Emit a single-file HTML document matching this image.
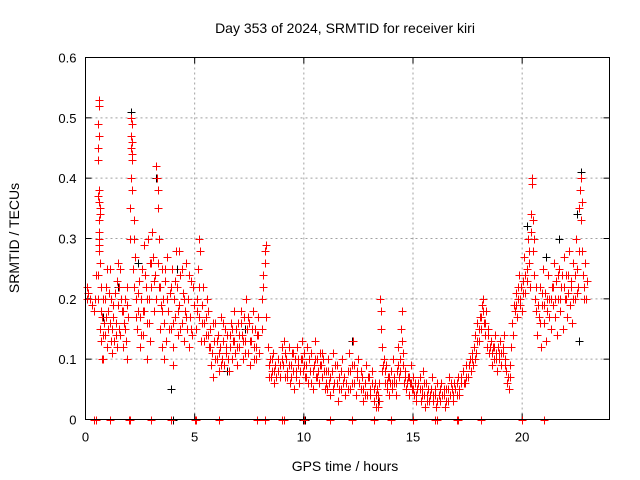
<!DOCTYPE html>
<html><head><meta charset="utf-8"><style>
html,body{margin:0;padding:0;background:#fff}
svg{display:block;font-family:"Liberation Sans",sans-serif}
</style></head><body>
<svg id="chart" width="640" height="480" viewBox="0 0 640 480" xmlns="http://www.w3.org/2000/svg">
<text x="345" y="33" font-size="14" text-anchor="middle">Day 353 of 2024, SRMTID for receiver kiri</text>
<text transform="translate(19,238) rotate(-90)" font-size="14" text-anchor="middle">SRMTID / TECUs</text>
<text x="345" y="471" font-size="14" text-anchor="middle">GPS time / hours</text>
<g id="grid"></g>
<g id="ticks"></g>
<g id="black" stroke="#000" stroke-width="1" fill="none" shape-rendering="crispEdges"></g>
<g id="red" stroke="#ff0000" stroke-width="1" fill="none" shape-rendering="crispEdges"></g>
<rect x="85.5" y="57.5" width="524" height="362" fill="none" stroke="#000" stroke-width="1"/>
</svg>
<script>
const xTicks=[0,5,10,15,20];
const yTicks=[0,0.1,0.2,0.3,0.4,0.5,0.6];
const yTickLabels=["0","0.1","0.2","0.3","0.4","0.5","0.6"];
const redPoints=[[0.05,.22],[0.05,.2],[0.1,.21],[0.4,.18],[0.45,.2],[0.5,.24],
[.55,.43],[.57,.45],[.6,.53],[.6,.52],[.58,.49],[.62,.47],[.6,.36],[.63,.38],[.65,.35],[.6,.33],[.62,.3],[.6,.28],[.64,.31],[.66,.26],[.55,.24],[.7,.22],[.68,.15],[.72,.13],[.75,.1],[.78,.1],[.7,.18],[.58,.2],
[.85,.16],[.9,.2],[.9,.14],[.95,.22],[1.0,.25],[1.0,.12],[1.05,.18],[1.1,.16],[1.1,.25],[1.15,.2],[1.2,.15],[1.2,.11],[1.25,.17],[1.3,.13],[1.35,.21],[1.4,.16],[1.45,.12],[1.5,.19],[1.5,.26],[1.55,.22],[1.6,.14],[1.6,.25],[1.65,.18],[1.7,.12],[1.75,.16],[1.8,.2],[1.85,.13],[1.9,.22],[1.95,.17],[1.9,.1],
[2.05,.35],[2.1,.5],[2.1,.47],[2.12,.49],[2.15,.44],[2.15,.46],[2.1,.4],[2.12,.38],[2.2,.33],[2.2,.3],[2.25,.27],[2.18,.25],
[2.3,.2],[2.35,.15],[2.4,.18],[2.45,.23],[2.5,.17],[2.5,.12],[2.55,.2],[2.6,.25],[2.65,.14],[2.7,.18],[2.7,.29],[2.75,.22],[2.8,.1],[2.8,.16],[2.85,.3],[2.9,.2],[2.95,.26],[2.95,.13],
[3.0,.22],[3.05,.31],[3.1,.27],[3.15,.18],[3.2,.24],[3.25,.42],[3.28,.4],[3.3,.38],[3.3,.35],[3.35,.3],[3.35,.22],[3.4,.15],[3.45,.19],[3.5,.25],[3.5,.12],
[3.55,.2],[3.6,.16],[3.65,.23],[3.7,.13],[3.75,.27],[3.8,.18],[3.85,.21],[3.9,.15],[3.95,.25],[4.0,.12],[4.05,.2],[4.1,.17],[4.15,.28],[4.2,.22],[4.25,.14],[4.3,.19],[4.35,.24],[4.4,.16],[4.45,.21],[4.5,.13],[4.55,.18],[4.6,.26],[4.65,.15],[4.7,.2],[4.75,.12],[4.8,.17],[4.85,.23],[4.9,.14],[4.95,.19],[4.0,.09],[3.6,.1],[4.3,.28],
[5.05,.15],[5.1,.2],[5.15,.25],[5.2,.3],[5.25,.28],[5.2,.17],[5.3,.13],[5.35,.19],[5.4,.22],[5.45,.16],[5.5,.14],
[5.55,.2],[5.6,.18],[5.65,.12],[5.7,.15],[5.75,.09],[5.8,.11],[5.85,.07],[5.9,.13],[5.95,.16],[6.0,.1],[6.05,.14],[6.1,.08],[6.15,.12],[6.2,.17],[6.25,.1],[6.3,.13],[6.35,.09],[6.4,.15],[6.45,.11],[6.5,.14],[6.55,.08],[6.6,.12],[6.65,.16],[6.7,.1],[6.75,.13],[6.8,.18],[6.85,.11],[6.9,.15],[6.95,.09],
[7.0,.16],[7.05,.12],[7.1,.18],[7.15,.14],[7.2,.1],[7.25,.17],[7.3,.13],[7.35,.2],[7.4,.15],[7.45,.11],[7.5,.16],[7.55,.09],[7.6,.13],[7.65,.18],[7.7,.12],[7.75,.15],[7.8,.1],[7.85,.14],[7.9,.17],[7.95,.11],
[8.1,.2],[8.15,.24],[8.2,.28],[8.25,.29],[8.2,.26],[8.15,.22],[8.25,.17],[8.1,.15],
[8.35,.12],[8.4,.09],[8.45,.1],[8.5,.07],[8.55,.08],[8.6,.11],[8.65,.06],[8.7,.09],[8.8,.08],[8.9,.07],
[9.0,.12],[9.05,.09],[9.1,.13],[9.15,.07],[9.2,.1],[9.25,.08],[9.3,.12],[9.35,.06],[9.4,.09],[9.45,.11],[9.5,.08],[9.55,.05],[9.6,.1],[9.65,.07],[9.7,.12],[9.75,.09],[9.8,.06],[9.85,.1],[9.9,.13],[9.95,.08],[10.0,.11],[10.05,.07],[10.1,.09],[10.15,.12],[10.2,.06],[10.25,.1],[10.3,.08],[10.35,.11],[10.4,.05],[10.45,.09],[10.5,.13],[10.55,.07],[10.6,.1],[10.65,.08],[10.7,.06],[10.75,.11],[10.8,.09],[10.85,.07],[10.9,.1],[10.95,.05],
[11.0,.08],[11.05,.05],[11.1,.1],[11.15,.06],[11.2,.04],[11.3,.08],[11.35,.11],[11.4,.06],[11.5,.09],[11.55,.03],[11.6,.07],[11.7,.05],[11.75,.1],[11.8,.06],[11.9,.04],[12.0,.08],[12.05,.11],[12.1,.05],[12.2,.09],[12.25,.13],[12.3,.06],[12.4,.04],[12.45,.08],[12.5,.1],[12.6,.05],[12.65,.07],[12.7,.03],[12.8,.06],[12.85,.09],[12.9,.04],[13.0,.07],[13.05,.05],[13.1,.08],[13.2,.03],[13.25,.06],[13.3,.02],[13.35,.05],[13.4,.04],
[13.5,.2],[13.52,.18],[13.55,.15],[13.6,.12],[13.6,.08],[13.65,.1],[13.7,.06],[13.75,.09],[13.8,.05],[13.85,.07],[13.9,.04],[13.95,.06],
[14.0,.08],[14.05,.05],[14.1,.1],[14.15,.06],[14.2,.04],[14.25,.08],[14.3,.12],[14.35,.07],[14.4,.1],[14.45,.15],[14.5,.18],[14.5,.13],[14.55,.09],[14.6,.06],[14.65,.08],[14.7,.05],[14.75,.07],[14.8,.04],[14.85,.06],[14.9,.09],[14.95,.05],
[15.0,.07],[15.05,.04],[15.1,.06],[15.15,.03],[15.2,.05],[15.3,.07],[15.35,.03],[15.4,.05],[15.45,.08],[15.5,.04],[15.55,.02],[15.6,.06],[15.65,.03],[15.7,.05],[15.8,.04],[15.85,.07],[15.9,.03],[16.0,.05],[16.05,.02],[16.1,.06],[16.2,.04],[16.25,.03],[16.3,.06],[16.4,.04],[16.45,.02],[16.5,.05],[16.6,.03],[16.65,.07],[16.7,.04],[16.8,.05],[16.85,.03],[16.9,.06],[17.0,.04],[17.05,.07],[17.1,.05],[17.2,.06],[17.3,.08],[17.4,.06],[17.45,.09],
[17.5,.07],[17.6,.1],[17.65,.08],[17.7,.11],[17.75,.09],[17.8,.12],[17.85,.14],[17.9,.11],[17.95,.16],[18.0,.13],[18.05,.17],[18.1,.15],[18.15,.19],[18.2,.2],[18.25,.16],[18.3,.14],[18.35,.18],[18.4,.12],[18.45,.15],
[18.5,.11],[18.55,.13],[18.6,.09],[18.65,.12],[18.7,.1],[18.75,.14],[18.8,.11],[18.85,.08],[18.9,.12],[18.95,.1],[19.0,.13],[19.05,.09],[19.1,.11],[19.15,.14],[19.2,.1],[19.25,.08],[19.3,.06],[19.35,.07],[19.4,.05],[19.45,.09],
[19.5,.12],[19.55,.16],[19.6,.14],[19.65,.18],[19.7,.21],[19.75,.17],[19.8,.2],[19.85,.24],[19.9,.19],[19.95,.22],[20.0,.18],[20.05,.23],[20.1,.27],[20.15,.21],[20.2,.25],[20.25,.3],[20.3,.26],[20.35,.22],[20.4,.34],[20.45,.39],[20.45,.4],[20.5,.33],[20.5,.28],[20.55,.24],[20.6,.2],[20.65,.18],
[20.7,.14],[20.75,.17],[20.8,.22],[20.85,.12],[20.9,.19],[20.95,.25],[21.0,.16],[21.05,.21],[21.1,.13],[21.15,.18],[21.2,.24],[21.25,.2],[21.3,.15],[21.35,.22],[21.4,.19],[21.45,.26],[21.5,.17],[21.55,.23],[21.6,.14],[21.65,.2],[21.7,.25],[21.75,.18],[21.8,.22],[21.85,.15],[21.9,.27],[21.95,.2],[22.0,.24],[22.05,.17],[22.1,.21],[22.15,.28],[22.2,.19],[22.25,.23],[22.3,.16],[22.35,.26],[22.4,.2],[22.45,.3],[22.5,.25],[22.55,.22],[22.6,.35],[22.65,.38],[22.7,.4],[22.7,.33],[22.75,.28],[22.8,.24],[22.85,.2],[22.9,.26],[22.95,.23]];
const redPointsExtra=[[0.2,.2],[0.3,.19],[0.62,.29],[0.66,.34],[0.58,.37],[0.75,.17],[0.8,.14],[0.82,.2],[0.92,.17],[1.02,.15],[1.08,.21],[1.18,.13],[1.28,.19],[1.38,.14],[1.42,.23],[1.52,.15],[1.62,.2],[1.72,.18],[1.82,.15],[1.92,.19],
[2.02,.3],[2.08,.45],[2.14,.43],[2.22,.22],[2.32,.17],[2.42,.21],[2.52,.14],[2.62,.18],[2.72,.24],[2.82,.2],[2.92,.16],[3.02,.26],[3.12,.23],[3.22,.2],[3.32,.26],[3.42,.22],[3.52,.18],[3.62,.25],[3.72,.2],[3.82,.15],[3.92,.22],[4.02,.16],[4.12,.23],[4.22,.18],[4.32,.15],[4.42,.25],[4.52,.2],[4.62,.17],[4.72,.24],[4.82,.15],[4.92,.22],
[5.12,.18],[5.22,.22],[5.32,.16],[5.42,.13],[5.52,.17],[5.62,.14],[5.72,.12],[5.82,.16],[5.92,.1],[6.02,.13],[6.12,.11],[6.22,.09],[6.32,.16],[6.42,.12],[6.52,.1],[6.62,.14],[6.72,.15],[6.82,.13],[6.92,.12],[7.02,.14],[7.12,.16],[7.22,.13],[7.32,.11],[7.42,.17],[7.52,.13],[7.62,.15],[7.72,.1],[7.82,.12],[7.92,.14],
[8.42,.07],[8.52,.1],[8.62,.08],[8.72,.07],[8.82,.1],[8.92,.09],[9.02,.1],[9.12,.11],[9.22,.07],[9.32,.09],[9.42,.07],[9.52,.11],[9.62,.08],[9.72,.1],[9.82,.08],[9.92,.1],[10.02,.09],[10.12,.07],[10.22,.1],[10.32,.06],[10.42,.08],[10.52,.1],[10.62,.07],[10.72,.09],[10.82,.11],[10.92,.08],
[11.02,.06],[11.12,.08],[11.22,.07],[11.32,.05],[11.42,.09],[11.52,.06],[11.62,.05],[11.72,.08],[11.82,.07],[11.92,.06],[12.02,.05],[12.12,.08],[12.22,.06],[12.32,.09],[12.42,.07],[12.52,.06],[12.62,.08],[12.72,.05],[12.82,.04],[12.92,.07],[13.02,.04],[13.12,.06],[13.22,.05],[13.32,.04],[13.42,.06],[13.45,.03],[13.38,.02],
[13.62,.09],[13.72,.08],[13.82,.06],[13.92,.07],[14.02,.06],[14.12,.07],[14.22,.06],[14.32,.09],[14.42,.08],[14.52,.11],[14.62,.07],[14.72,.06],[14.82,.07],[14.92,.06],
[15.02,.05],[15.12,.04],[15.22,.06],[15.32,.05],[15.42,.04],[15.52,.06],[15.62,.04],[15.72,.03],[15.82,.05],[15.92,.04],[16.02,.04],[16.12,.03],[16.22,.05],[16.32,.04],[16.42,.05],[16.52,.03],[16.62,.05],[16.72,.06],[16.82,.04],[16.92,.05],[17.02,.06],[17.12,.04],[17.22,.07],[17.32,.06],[17.42,.07],
[17.55,.09],[17.72,.1],[17.82,.1],[17.92,.13],[18.02,.15],[18.12,.17],[18.22,.18],[18.32,.16],[18.42,.14],[18.52,.12],[18.62,.11],[18.72,.12],[18.82,.1],[18.92,.11],[19.02,.11],[19.12,.12],[19.22,.09],[19.42,.07],
[19.62,.19],[19.72,.19],[19.82,.22],[19.92,.2],[20.02,.21],[20.12,.24],[20.22,.23],[20.32,.28],[20.42,.31],[20.52,.3],[20.62,.22],[20.72,.19],[20.82,.16],[20.92,.21],[21.02,.19],[21.12,.2],[21.22,.17],[21.32,.2],[21.42,.22],[21.52,.2],[21.62,.24],[21.72,.2],[21.82,.24],[21.92,.22],[22.02,.2],[22.12,.24],[22.22,.22],[22.32,.2],[22.42,.24],[22.52,.21],[22.62,.28],[22.72,.36],[22.82,.22],[22.92,.2]];
const redZeroTimes=[0.4,0.5,1.1,2.0,2.05,3.0,3.9,5.0,5.05,6.1,7.85,8.2,9.0,9.1,10.0,11.2,12.2,13.2,14.0,15.0,16.0,16.1,17.0,17.05,18.1,20.0,21.0];
const blackPoints=[[0.05,.2],[0.6,.52],[2.1,.51],[2.4,.26],[3.25,.4],[3.3,.38],[3.9,.05],[4.2,.25],[6.5,.08],[9.2,.1],[12.2,.13],[13.4,.03],[16,.05],[20.2,.32],[21.7,.3],[22.5,.34],[22.7,.41],[22.6,.13],[21.1,.27],[0.8,.17],[1.5,.22],[7.3,.15]];
const blackZeroTimes=[4.0,9.95,10.05];

const X0=85.5,X1=609.5,Y0=419.5,Y1=57.5,XMAX=24,YMAX=0.6;
function xs(t){return X0+(X1-X0)*t/XMAX;}
function ys(v){return Y0-(Y0-Y1)*v/YMAX;}
const NS="http://www.w3.org/2000/svg";
function mk(tag,attrs,parent){const e=document.createElementNS(NS,tag);for(const k in attrs)e.setAttribute(k,attrs[k]);parent.appendChild(e);return e;}
const grid=document.getElementById('grid'),ticks=document.getElementById('ticks');
xTicks.forEach((t,i)=>{
  const x=xs(t);
  if(t>0){const g=mk('line',{x1:x,x2:x,y1:Y0,y2:Y1,stroke:'#a0a0a0','stroke-dasharray':'2,3'},grid);
  
  }
  const tl=mk('text',{x:x,y:Y0+22,'font-size':13,'text-anchor':'middle'},ticks);
  tl.textContent=String(t);
  
  
  mk('line',{x1:x,x2:x,y1:Y0,y2:Y0-6,stroke:'#000'},ticks);
  mk('line',{x1:x,x2:x,y1:Y1,y2:Y1+6,stroke:'#000'},ticks);
});
yTicks.forEach((v,i)=>{
  const y=ys(v);
  if(v>0&&v<YMAX){const g=mk('line',{x1:X0,x2:X1,y1:y,y2:y,stroke:'#a0a0a0','stroke-dasharray':'2,3'},grid);
  
  }
  const tl=mk('text',{x:X0-9,y:y+5,'font-size':13,'text-anchor':'end'},ticks);
  tl.textContent=yTickLabels[i];
  
  
  mk('line',{x1:X0,x2:X0+6,y1:y,y2:y,stroke:'#000'},ticks);
  mk('line',{x1:X1,x2:X1-6,y1:y,y2:y,stroke:'#000'},ticks);
});
function plus(g,t,v,name){
  const x=Math.round(xs(t))+0.5,y=Math.round(ys(v))+0.5;
  const p=mk('path',{d:`M${x-4} ${y}h8M${x} ${y-4}v8`},g);
  
  
}
const bg=document.getElementById('black'),rg=document.getElementById('red');
blackPoints.forEach(p=>plus(bg,p[0],p[1],'black-point'));
blackZeroTimes.forEach(t=>plus(bg,t,0,'black-zero-point'));
redPoints.forEach(p=>plus(rg,p[0],p[1],'red-point'));
redPointsExtra.forEach(p=>plus(rg,p[0],p[1],'red-point'));
redZeroTimes.forEach(t=>plus(rg,t,0,'red-zero-point'));
</script>
</body></html>
